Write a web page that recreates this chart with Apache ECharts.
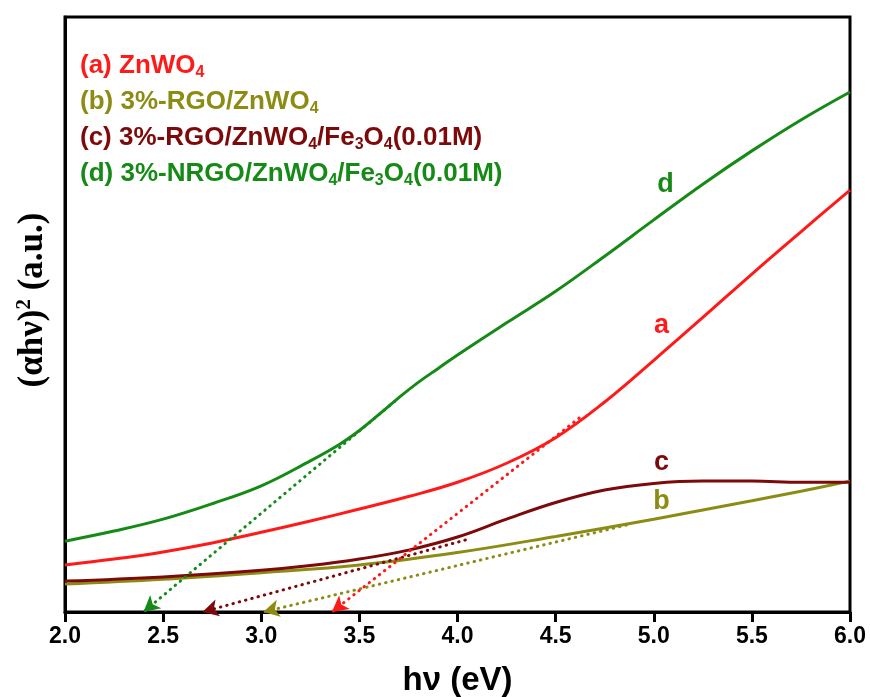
<!DOCTYPE html>
<html>
<head>
<meta charset="utf-8">
<script src="https://cdn.jsdelivr.net/npm/echarts@6/dist/echarts.min.js"></script>
<style>
  html, body { margin: 0; padding: 0; background: #fff; }
  #chart { width: 870px; height: 697px; }
</style>
</head>
<body>
<div id="chart"></div>
<script>
// Photon energy (eV) and Tauc-plot intensity (arbitrary units) for each sample
const energyA = [2.0, 2.25, 2.5, 2.75, 3.0, 3.25, 3.5, 3.75, 4.0, 4.25, 4.5, 4.75, 5.0, 5.25, 5.5, 5.75, 6.0];
const curveA  = [7.9, 8.9, 10.1, 11.6, 13.4, 15.3, 17.3, 19.4, 21.8, 25.0, 29.3, 35.3, 42.3, 49.5, 56.8, 63.9, 70.9];

const energyB = [2.0, 2.5, 3.0, 3.5, 4.0, 4.5, 5.0, 5.5, 5.75, 6.0];
const curveB  = [4.7, 5.5, 6.6, 7.9, 10.0, 12.7, 15.6, 18.7, 20.3, 22.0];

const energyC = [2.0, 2.5, 3.0, 3.25, 3.5, 3.75, 4.0, 4.25, 4.5, 4.75, 5.0, 5.25, 5.5, 5.75, 6.0];
const curveC  = [5.2, 5.9, 7.0, 7.8, 8.9, 10.4, 12.6, 15.6, 18.4, 20.5, 21.6, 22.0, 22.0, 21.8, 21.8];

const energyD = [2.0, 2.25, 2.5, 2.75, 3.0, 3.25, 3.4, 3.5, 3.6, 3.7, 3.8, 3.9, 4.0, 4.25, 4.5, 4.75, 5.0, 5.25, 5.5, 5.75, 6.0];
const curveD  = [11.9, 13.6, 15.6, 18.2, 21.2, 25.4, 28.2, 30.5, 33.2, 36.0, 38.6, 40.9, 43.2, 48.6, 53.9, 59.8, 65.9, 71.9, 77.5, 82.7, 87.4];

// Linear extrapolations to the energy axis: [start energy, start intensity, band gap]
const fitA = [4.62, 32.6, 3.36];
const fitB = [4.86, 14.6, 3.01];
const fitC = [4.04, 12.1, 2.70];
const fitD = [3.68, 35.4, 2.40];

const xTicks = [2.0, 2.5, 3.0, 3.5, 4.0, 4.5, 5.0, 5.5, 6.0];
const curveTags = ['a', 'b', 'c', 'd'];

const colors = { a: '#ff1a1a', b: '#8c8c14', c: '#7d0a0a', d: '#168a16' };

function pairs(xs, ys) { return xs.map((x, i) => [x, ys[i]]); }

function fitLine(fit, color) {
  return {
    silent: true,
    symbol: ['none', 'arrow'],
    symbolSize: [13, 16],
    label: { show: false },
    emphasis: { disabled: true },
    lineStyle: { color: color, width: 3, type: [0.5, 6], cap: 'round', opacity: 1 },
    data: [[{ coord: [fit[0], fit[1]] }, { coord: [fit[2], 0] }]]
  };
}

function curve(name, xs, ys, color, fit) {
  return {
    name: name,
    type: 'line',
    data: pairs(xs, ys),
    smooth: 0.4,
    showSymbol: false,
    symbol: 'none',
    lineStyle: { color: color, width: 3 },
    z: 3,
    markLine: fitLine(fit, color)
  };
}

// Tag letter positions next to the curves (energy, intensity)
const tagAnchors = { a: [5.04, 48.2], b: [5.04, 18.6], c: [5.04, 25.2], d: [5.06, 71.8] };

const chart = echarts.init(document.getElementById('chart'), null, { renderer: 'canvas' });

const sansFont = "'Liberation Sans', Arial, sans-serif";
const serifFont = "'Liberation Serif', 'Times New Roman', serif";

function legendLine(y, color, parts) {
  return {
    type: 'text',
    x: 80,
    y: y,
    style: {
      text: parts,
      fill: color,
      verticalAlign: 'middle',
      font: 'bold 26px ' + sansFont,
      rich: {
        m: { fontSize: 26, fontWeight: 'bold', fontFamily: sansFont, fill: color },
        s: { fontSize: 16, fontWeight: 'bold', fontFamily: sansFont, fill: color, padding: [13, 0, 0, 0] }
      }
    }
  };
}

const option = {
  animation: false,
  backgroundColor: '#fff',
  grid: {
    left: 65, right: 20, top: 17, bottom: 85,
    outerBoundsMode: 'none',
    containLabel: false,
    show: true, borderColor: '#000', borderWidth: 3, backgroundColor: 'transparent'
  },
  xAxis: {
    type: 'value',
    min: 2.0, max: 6.0, interval: 0.5,
    name: 'hν (eV)',
    nameLocation: 'middle',
    nameGap: 52,
    nameTextStyle: { fontFamily: sansFont, fontWeight: 'bold', fontSize: 33, color: '#000' },
    axisLine: { show: true, onZero: false, lineStyle: { color: '#000', width: 3 } },
    axisTick: { show: true, inside: false, length: 10, lineStyle: { color: '#000', width: 3 } },
    axisLabel: {
      color: '#000', fontFamily: sansFont, fontWeight: 'bold', fontSize: 23, margin: 13,
      formatter: v => xTicks.includes(v) ? v.toFixed(1) : ''
    },
    splitLine: { show: false }
  },
  yAxis: {
    type: 'value',
    min: 0, max: 100,
    axisLine: { show: true, lineStyle: { color: '#000', width: 3 } },
    axisTick: { show: false },
    axisLabel: { show: false },
    splitLine: { show: false }
  },
  graphic: [
    {
      type: 'text',
      x: 33,
      y: 300,
      rotation: Math.PI / 2,
      style: {
        text: '{m|(αhν)}{p|2}{m| (a.u.)}',
        align: 'center',
        verticalAlign: 'middle',
        rich: {
          m: { fontFamily: serifFont, fontWeight: 'bold', fontSize: 35, fill: '#000' },
          p: { fontFamily: serifFont, fontWeight: 'bold', fontSize: 21, fill: '#000', padding: [0, 0, 17, 0] }
        }
      }
    },
    legendLine(66, colors.a, '{m|(a) ZnWO}{s|4}'),
    legendLine(102, colors.b, '{m|(b) 3%-RGO/ZnWO}{s|4}'),
    legendLine(138, colors.c, '{m|(c) 3%-RGO/ZnWO}{s|4}{m|/Fe}{s|3}{m|O}{s|4}{m|(0.01M)}'),
    legendLine(174, colors.d, '{m|(d) 3%-NRGO/ZnWO}{s|4}{m|/Fe}{s|3}{m|O}{s|4}{m|(0.01M)}')
  ],
  series: [
    curve('(b) 3%-RGO/ZnWO4', energyB, curveB, colors.b, fitB),
    curve('(c) 3%-RGO/ZnWO4/Fe3O4(0.01M)', energyC, curveC, colors.c, fitC),
    curve('(a) ZnWO4', energyA, curveA, colors.a, fitA),
    curve('(d) 3%-NRGO/ZnWO4/Fe3O4(0.01M)', energyD, curveD, colors.d, fitD),
    {
      type: 'scatter',
      silent: true,
      symbolSize: 0,
      itemStyle: { opacity: 1 },
      z: 5,
      data: curveTags.map(t => ({
        value: tagAnchors[t],
        label: {
          show: true, position: 'inside', formatter: t, opacity: 1,
          color: colors[t], fontFamily: sansFont, fontWeight: 'bold', fontSize: 27
        }
      }))
    }
  ]
};

chart.setOption(option);
</script>
</body>
</html>
